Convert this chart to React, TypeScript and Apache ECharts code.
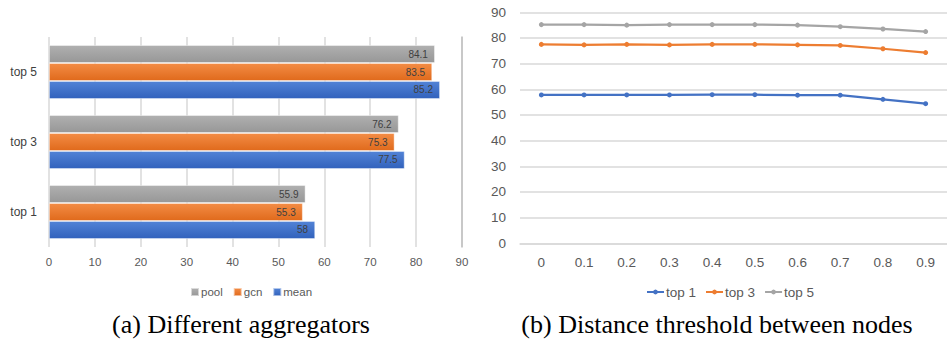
import React, { useEffect, useRef } from "react";
import * as echarts from "echarts";

const aggCategories = ["top 1", "top 3", "top 5"];
const poolValues = [55.9, 76.2, 84.1];
const gcnValues = [55.3, 75.3, 83.5];
const meanValues = [58, 77.5, 85.2];

const thresholds = ["0", "0.1", "0.2", "0.3", "0.4", "0.5", "0.6", "0.7", "0.8", "0.9"];
const top1Values = [57.8, 57.8, 57.8, 57.8, 57.9, 57.9, 57.7, 57.7, 56.1, 54.4];
const top3Values = [77.5, 77.3, 77.5, 77.3, 77.5, 77.5, 77.3, 77.1, 75.8, 74.3];
const top5Values = [85.2, 85.2, 85.0, 85.2, 85.2, 85.2, 85.0, 84.4, 83.5, 82.5];

const captionA = "(a) Different aggregators";
const captionB = "(b) Distance threshold between nodes";

const FONT = "'Liberation Sans', Arial, sans-serif";
const GRID_COLOR = "#d9d9d9";
const TEXT_COLOR = "#595959";

const grad = (top: string, bottom: string) =>
  new echarts.graphic.LinearGradient(0, 0, 0, 1, [
    { offset: 0, color: top },
    { offset: 1, color: bottom },
  ]);

export default function App() {
  const ref = useRef<HTMLDivElement>(null);

  useEffect(() => {
    if (!ref.current) return;
    const chart = echarts.init(ref.current, undefined, { renderer: "svg" });

    const barLabel = {
      show: true,
      position: "insideRight" as const,
      distance: 7,
      color: "#404040",
      fontSize: 10,
      fontFamily: FONT,
    };

    const barSeries = (name: string, data: number[], top: string, bottom: string) => ({
      name,
      type: "bar",
      xAxisIndex: 0,
      yAxisIndex: 0,
      data,
      barCategoryGap: "23%",
      barGap: "0%",
      itemStyle: {
        color: grad(top, bottom),
        borderColor: "rgba(255,255,255,0.55)",
        borderWidth: 0.8,
      },
      label: barLabel,
    });

    const lineSeries = (name: string, data: number[], color: string) => ({
      name,
      type: "line",
      xAxisIndex: 1,
      yAxisIndex: 2,
      data,
      symbol: "circle",
      symbolSize: 5,
      lineStyle: { color, width: 2.25 },
      itemStyle: { color },
    });

    chart.setOption({
      animation: false,
      textStyle: { fontFamily: FONT },
      grid: [
        { left: 49, right: 485, top: 37, bottom: 92 },
        { left: 520, right: -6, top: 12.3, bottom: 95.7 },
      ],
      xAxis: [
        {
          gridIndex: 0,
          type: "value",
          min: 0,
          max: 90,
          interval: 10,
          axisLine: { show: false },
          axisTick: { show: false },
          axisLabel: { color: TEXT_COLOR, fontSize: 11.5, margin: 9, fontFamily: FONT },
          splitLine: { show: true, lineStyle: { color: GRID_COLOR, width: 1.5 } },
        },
        {
          gridIndex: 1,
          type: "category",
          data: thresholds,
          boundaryGap: true,
          axisLine: { show: true, lineStyle: { color: GRID_COLOR, width: 1.5 } },
          axisTick: { show: false },
          axisLabel: { color: TEXT_COLOR, fontSize: 13.5, margin: 12, fontFamily: FONT },
        },
      ],
      yAxis: [
        {
          gridIndex: 0,
          type: "category",
          data: aggCategories,
          axisLine: { show: false },
          axisTick: { show: false },
          axisLabel: { color: "#404040", fontSize: 12, margin: 12, fontFamily: FONT },
        },
        {
          gridIndex: 0,
          type: "category",
          position: "right",
          data: aggCategories,
          axisLine: { show: true, lineStyle: { color: "#bfbfbf", width: 1.5 } },
          axisTick: { show: false },
          axisLabel: { show: false },
        },
        {
          gridIndex: 1,
          type: "value",
          min: 0,
          max: 90,
          interval: 10,
          axisLine: { show: false },
          axisTick: { show: false },
          axisLabel: { color: TEXT_COLOR, fontSize: 13.5, margin: 14, fontFamily: FONT },
          splitLine: { show: true, lineStyle: { color: GRID_COLOR, width: 1.5 } },
        },
      ],
      legend: [
        {
          data: ["pool", "gcn", "mean"],
          left: 185,
          top: 281,
          itemWidth: 8,
          itemHeight: 8,
          itemGap: 10,
          icon: "rect",
          textStyle: { color: TEXT_COLOR, fontSize: 11.5, padding: [0, 0, 0, -3], fontFamily: FONT },
        },
        {
          data: ["top 1", "top 3", "top 5"],
          left: 641,
          top: 280,
          itemWidth: 17,
          itemHeight: 6,
          itemGap: 9,
          textStyle: { color: TEXT_COLOR, fontSize: 13.5, padding: [0, 0, 0, -3], fontFamily: FONT },
        },
      ],
      series: [
        barSeries("pool", poolValues, "#b0b0b0", "#979797"),
        barSeries("gcn", gcnValues, "#f38c45", "#e06a1c"),
        barSeries("mean", meanValues, "#5283d6", "#3262bc"),
        lineSeries("top 1", top1Values, "#4472c4"),
        lineSeries("top 3", top3Values, "#ed7d31"),
        lineSeries("top 5", top5Values, "#a5a5a5"),
      ],
      graphic: [
        {
          type: "text",
          x: 241,
          y: 324,
          style: {
            text: captionA,
            font: "26px 'Liberation Serif', 'Times New Roman', serif",
            fill: "#000",
            align: "center",
            verticalAlign: "middle",
          },
        },
        {
          type: "text",
          x: 717,
          y: 324,
          style: {
            text: captionB,
            font: "26px 'Liberation Serif', 'Times New Roman', serif",
            fill: "#000",
            align: "center",
            verticalAlign: "middle",
          },
        },
      ],
    });

    return () => chart.dispose();
  }, []);

  return (
    <div
      ref={ref}
      style={{ position: "absolute", left: 0, top: 0, width: 947, height: 339, background: "#fff" }}
    />
  );
}
